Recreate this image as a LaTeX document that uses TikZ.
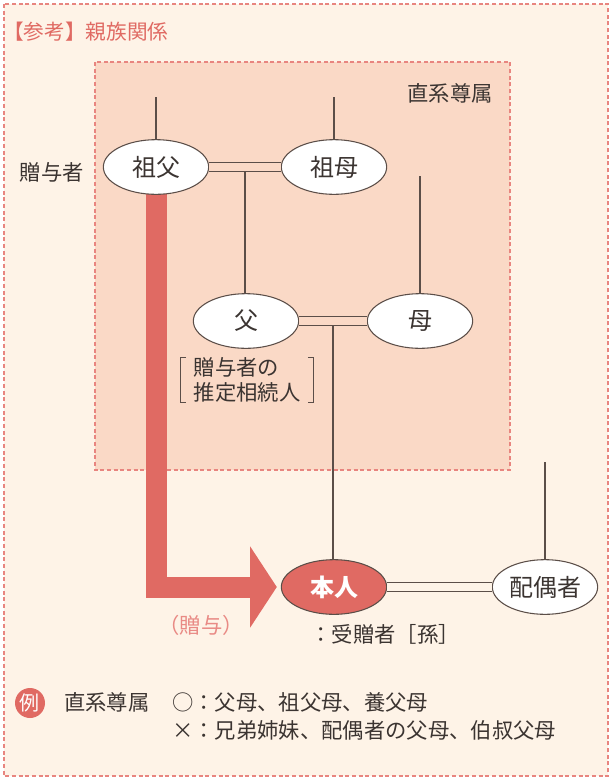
\documentclass[tikz,border=0pt]{standalone}
\usepackage{fontspec}
\setmainfont{Noto Sans CJK JP}
\usepackage{xcolor}
\usepackage{tikz}
\usetikzlibrary{shapes.geometric, arrows.meta, positioning, backgrounds, calc}
\definecolor{cream}{HTML}{FEF3E7}
\definecolor{peach}{HTML}{FAD9C6}
\definecolor{dashred}{HTML}{E8857F}
\definecolor{giftred}{HTML}{E06A63}
\definecolor{softred}{HTML}{E98A85}
\definecolor{linegray}{HTML}{5B4E48}
\definecolor{ink}{HTML}{3B3431}

\begin{document}
\begin{tikzpicture}[
    x=0.75pt, y=-0.75pt,
    person/.style={ellipse, draw=linegray, line width=0.8pt, fill=white, minimum width=79pt, minimum height=41pt, inner sep=0pt, text=ink, font=\fontsize{18}{20}\selectfont},
    self/.style={person, fill=giftred, text=white, font=\fontsize{18}{20}\selectfont\bfseries},
    kin/.style={draw=linegray, line width=0.8pt},
    tie/.style={kin, double distance=6.5pt},
    txt/.style={text=ink, font=\fontsize{16}{18.75}\selectfont},
    area/.style={draw=dashred, line width=0.8pt, dash pattern=on 3pt off 2pt},
    gift/.style={draw=giftred, line width=15.75pt, -{Triangle[length=20pt, width=60pt]}}
]
    \useasboundingbox (0,0) rectangle (611,779);

    % People
    \node[person] (gf) at (156,167) {祖父};
    \node[person] (gm) at (334,167) {祖母};
    \node[person] (fa) at (246,321) {父};
    \node[person] (mo) at (420,321) {母};
    \node[self] (me) at (334,587) {本人};
    \node[person] (sp) at (545,587) {配偶者};

    % Labels
    \node[txt, text=giftred, font=\fontsize{15.5}{17}\selectfont, anchor=west, inner sep=0pt] (title) at (3,32) {【参考】親族関係};
    \node[txt] (lineal) at (450,93) {直系尊属};
    \node[txt] (donor) at (52,172) {贈与者};
    \node[txt, align=left, inner xsep=9.5pt, inner ysep=0pt, minimum height=34pt] (heir) at (247,380) {贈与者の\\推定相続人};
    \node[txt, text=softred] (giftlbl) at (201,625) {（贈与）};
    \node[txt] (donee) at (385,634) {：受贈者［孫］};

    % Legend
    \node[circle, fill=giftred, text=white, minimum size=22.5pt, inner sep=0pt, font=\fontsize{15}{17}\selectfont] (ex) at (30,703) {例};
    \node[txt, anchor=west, inner sep=0pt] (exhead) at (64,702) {直系尊属};
    \node[txt, anchor=west, inner sep=0pt] (exyes) at (172,702) {○：父母、祖父母、養父母};
    \node[txt, anchor=west, inner sep=0pt] (exno) at (172,730) {\makebox[1em]{×}：兄弟姉妹、配偶者の父母、伯叔父母};

    % Lines
    \coordinate (gftop) at (156,97);
    \coordinate (gmtop) at (334,97);
    \coordinate (motop) at (420,176);
    \coordinate (sptop) at (545,462);
    \draw[kin] (gftop) -- (gf);
    \draw[kin] (gmtop) -- (gm);
    \draw[kin] (motop) -- (mo);
    \draw[kin] (sptop) -- (sp);
    \draw[tie, double=peach] (gf) -- (gm);
    \draw[tie, double=peach] (fa) -- (mo);
    \draw[tie, double=cream] (me) -- (sp);
    \coordinate (gpmid) at ($(gf.east)!0.5!(gm.west)$);
    \coordinate (pmid) at ($(fa.east)!0.5!(mo.west)$);
    \draw[kin] ([yshift=-4pt]gpmid) -- (gpmid |- fa.north);
    \draw[kin] ([yshift=-4pt]pmid) -- (pmid |- me.north);

    % Bracket
    \draw[kin, line width=0.7pt] ([xshift=4pt]heir.north west) -- (heir.north west) -- (heir.south west) -- ++(4pt,0);
    \draw[kin, line width=0.7pt] ([xshift=-4pt]heir.north east) -- (heir.north east) -- (heir.south east) -- ++(-4pt,0);

    % Frames and gift arrow
    \begin{scope}[on background layer]
        \draw[area, fill=cream] (4,4) rectangle (608,776);
        \draw[area, fill=peach] (95,62) rectangle (510,470);
        \draw[gift] (gf.center) |- ([xshift=-3pt]me.west);
    \end{scope}
\end{tikzpicture}
\end{document}
